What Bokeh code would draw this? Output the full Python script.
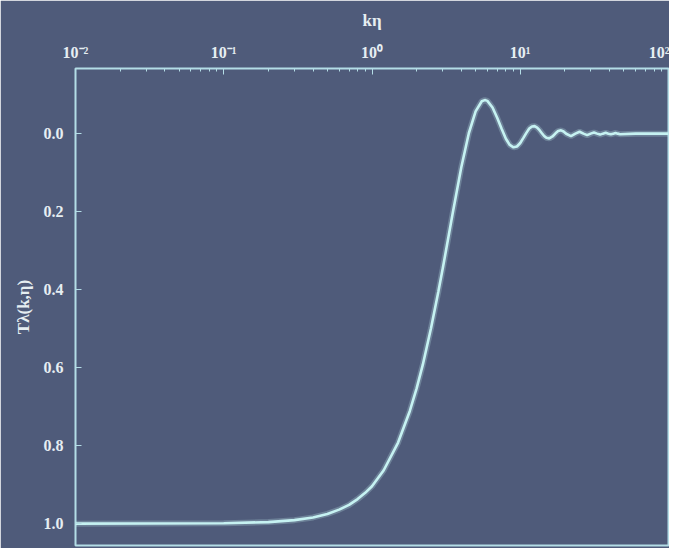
from bokeh.plotting import figure
from bokeh.models import Range1d, FixedTicker, LogAxis, LinearAxis, LogScale
from bokeh.embed import file_html
from bokeh.resources import INLINE

# data
k_eta = [0.01, 0.1, 0.2, 0.3, 0.4, 0.5, 0.6, 0.7, 0.8, 0.9, 1.0, 1.2, 1.5, 1.8, 2.0, 2.2,
         2.5, 2.8, 3.0, 3.5, 4.0, 4.5, 5.0, 5.5, 5.76, 6.0, 6.5, 7.0, 7.5, 8.0, 8.5, 9.0,
         9.5, 10.0, 10.5, 11.0, 11.5, 12.0, 12.5, 13.0, 13.5, 14.0, 14.5, 15.0, 15.7,
         16.5, 17.3, 18.0, 18.85, 19.6, 20.4, 21.99, 23.55, 25.13, 26.7, 28.27, 29.85,
         31.42, 33.0, 34.56, 36.1, 37.7, 39.3, 40.84, 42.4, 43.98, 45.5, 47.12, 60.0, 100.0]
transfer = [1.0, 0.999, 0.996, 0.991, 0.984, 0.975, 0.964, 0.952, 0.937, 0.921, 0.904,
            0.863, 0.792, 0.711, 0.653, 0.593, 0.499, 0.406, 0.346, 0.205, 0.087, -0.001,
            -0.057, -0.083, -0.086, -0.084, -0.067, -0.040, -0.012, 0.013, 0.029, 0.035,
            0.033, 0.024, 0.011, -0.002, -0.013, -0.0185, -0.0193, -0.0155, -0.0088,
            -0.001, 0.006, 0.0107, 0.0122, 0.0073, -0.0008, -0.0065, -0.0084, -0.0054,
            0.0002, 0.0062, 0.0, -0.0048, 0.0, 0.0038, 0.0, -0.0030, 0.0, 0.0025, 0.0,
            -0.0021, 0.0, 0.0018, 0.0, -0.0016, 0.0, 0.0014, 0.0, 0.0]

x_ticks = [0.01, 0.1, 1.0, 10.0, 100.0]
x_tick_labels = ["10⁻²", "10⁻¹", "10⁰", "10¹", "10²"]
y_ticks = [0.0, 0.2, 0.4, 0.6, 0.8, 1.0]
y_tick_labels = ["0.0", "0.2", "0.4", "0.6", "0.8", "1.0"]

BG = "#4f5b7a"
LINE = "#c6f2f2"
FRAME = "#b4dde6"
TEXT = "#e6eef2"
FONT = "Liberation Serif"

p = figure(width=669, height=548, output_backend="svg", toolbar_location=None,
           x_axis_type=None, y_axis_type=None,
           x_range=Range1d(0.01, 100.0), y_range=Range1d(1.056, -0.167),
           min_border_left=75, min_border_top=68, min_border_right=1, min_border_bottom=3)
p.x_scale = LogScale()

p.background_fill_color = BG
p.border_fill_color = BG
p.outline_line_color = FRAME
p.outline_line_width = 2
p.grid.visible = False

minor = []
for d in [0.01, 0.1, 1.0, 10.0]:
    for m in range(2, 10):
        minor.append(d * m)

xa = LogAxis(ticker=FixedTicker(ticks=x_ticks, minor_ticks=minor),
             axis_label="kη")
xa.major_label_overrides = {t: l for t, l in zip(x_ticks, x_tick_labels)}
ya = LinearAxis(ticker=FixedTicker(ticks=y_ticks), axis_label="Tλ(k,η)")
ya.major_label_overrides = {t: l for t, l in zip(y_ticks, y_tick_labels)}

for ax in (xa, ya):
    ax.axis_line_color = None
    ax.major_tick_line_color = FRAME
    ax.minor_tick_line_color = FRAME
    ax.major_tick_in = 6
    ax.major_tick_out = 0
    ax.minor_tick_in = 3
    ax.minor_tick_out = 0
    ax.major_label_text_color = TEXT
    ax.major_label_text_font = FONT
    ax.major_label_text_font_size = "16px"
    ax.major_label_text_font_style = "bold"
    ax.axis_label_text_color = TEXT
    ax.axis_label_text_font = FONT
    ax.axis_label_text_font_size = "17px"
    ax.axis_label_text_font_style = "bold"
ya.minor_tick_line_color = None
xa.major_label_standoff = 8
xa.axis_label_standoff = 11
ya.major_label_standoff = 12
ya.axis_label_standoff = 8

p.add_layout(xa, "above")
p.add_layout(ya, "left")

p.line(k_eta, transfer, line_color=LINE, line_width=6, line_alpha=0.25)
p.line(k_eta, transfer, line_color=LINE, line_width=2.6)

open("out.html", "w").write(file_html(p, INLINE))
